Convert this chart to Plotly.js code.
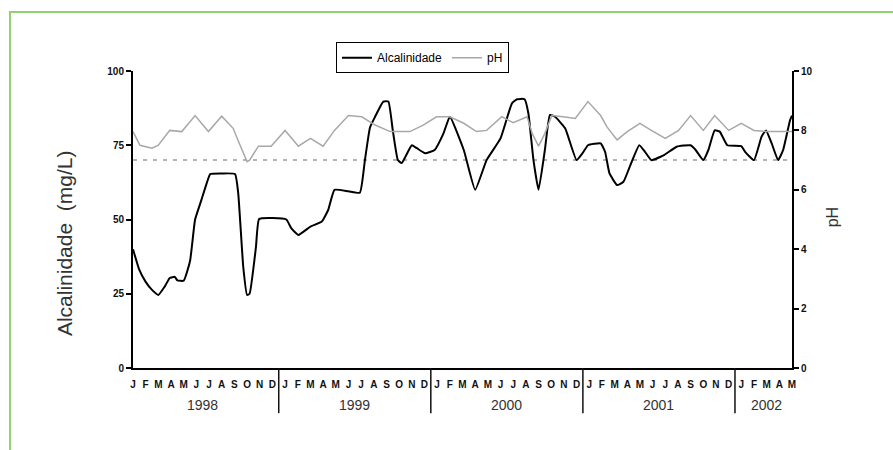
<!DOCTYPE html>
<html>
<head>
<meta charset="utf-8">
<script src="https://cdn.plot.ly/plotly-3.0.1.min.js"></script>
<style>
  html, body { margin: 0; padding: 0; background: #fff; }
  #wrap { position: relative; width: 893px; height: 450px; overflow: hidden; }
  #chart { width: 893px; height: 450px; }
  #frame { position: absolute; left: 9px; top: 11px; right: -4px; bottom: -4px;
           border-top: 2px solid #93d070; border-left: 2px solid #93d070; pointer-events: none; }
</style>
</head>
<body>
<div id="wrap">
  <div id="chart"></div>
  <div id="frame"></div>
</div>
<script>
// Monthly position (0 = January 1998) of each alkalinity reading
const alkMonth = [0, 0.5, 1.0, 1.5, 2.0, 2.5, 2.9, 3.3, 3.5, 4.0, 4.5, 4.9, 5.4, 5.8, 6.1, 7.0, 8.05,
  8.3, 8.7, 9.0, 9.2, 9.7, 9.95, 11.0, 12.1, 12.5, 13.05, 14.0, 14.9, 15.4, 15.9, 17.0, 17.9,
  18.3, 18.7, 19.1, 19.75, 20.15, 20.5, 20.9, 21.2, 22.0, 22.4, 23.05, 23.8, 24.5, 25.0, 26.1,
  27.0, 27.9, 29.0, 29.9, 30.3, 30.9, 31.2, 31.6, 32.0, 32.5, 32.9, 33.3, 34.1, 35.0, 35.5,
  35.9, 36.9, 37.25, 37.6, 38.2, 38.7, 39.2, 39.95, 40.4, 40.9, 41.9, 42.9, 44.0, 44.4, 45.0,
  45.4, 45.9, 46.3, 46.9, 48.0, 48.3, 49.0, 49.6, 49.95, 50.4, 50.9, 51.3, 51.85, 52.0];
// Alkalinity (mg/L)
const alkValue = [40, 33, 29, 26.3, 24.6, 27.4, 30.3, 30.7, 29.5, 29.4, 36, 50, 56.6, 62, 65.3, 65.5, 65.3,
  59, 34, 24.6, 25, 40.7, 50.2, 50.5, 50, 47, 44.8, 47.6, 49.3, 53.2, 60, 59.5, 59,
  70, 81, 84.6, 89.7, 89.7, 80, 70, 69, 75, 74, 72.3, 73.4, 79, 84.6, 73.4,
  60, 70, 77.3, 89.1, 90.5, 90.5, 85.7, 70, 60, 73.4, 85.2, 84.6, 80.7, 70, 72.5,
  75, 75.6, 72.8, 65.5, 61.6, 62.7, 67.8, 75, 72.8, 70, 71.7, 74.5, 75, 73.4, 70,
  73.4, 80, 79.6, 75, 74.7, 72.8, 70, 77.9, 80, 75.6, 70, 73.4, 83.5, 85];

// Monthly position of each pH reading
const phMonth = [0, 0.55, 1.5, 2.0, 2.9, 3.85, 4.9, 5.95, 7.0, 7.9, 8.45, 9.0, 9.2, 9.9, 10.9, 12.0,
  13.05, 14.0, 15.0, 15.9, 17.0, 18.05, 19.1, 20.3, 21.85, 22.9, 23.95, 25.0, 26.1, 27.1, 27.9,
  29.1, 30.0, 31.1, 31.5, 32.0, 32.5, 33.05, 33.95, 34.9, 35.9, 36.9, 37.4, 38.2, 39.0, 40.0,
  40.9, 42.0, 43.05, 44.0, 45.0, 45.9, 47.0, 48.0, 49.0, 50.0, 51.1, 52.0];
const phValue = [7.96, 7.5, 7.4, 7.5, 8.0, 7.96, 8.5, 7.96, 8.48, 8.07, 7.5, 6.95, 7.0, 7.47, 7.47, 8.0,
  7.47, 7.73, 7.47, 8.0, 8.5, 8.46, 8.18, 7.96, 7.96, 8.18, 8.46, 8.46, 8.24, 7.96, 8.0,
  8.46, 8.26, 8.46, 7.9, 7.47, 7.9, 8.5, 8.46, 8.4, 8.97, 8.5, 8.12, 7.68, 7.96, 8.24,
  8.0, 7.73, 8.0, 8.5, 8.0, 8.5, 8.0, 8.24, 8.0, 7.96, 7.96, 7.96];

// Reference level (70 mg/L, equivalent to pH 7 on the right scale)
const referenceLevel = 70;

// Axis labels
const monthLetters = ['J', 'F', 'M', 'A', 'M', 'J', 'J', 'A', 'S', 'O', 'N', 'D'];
const years = ['1998', '1999', '2000', '2001', '2002'];
const monthsPerYear = [12, 12, 12, 12, 5];
const alkTicks = [0, 25, 50, 75, 100];
const phTicks = [0, 2, 4, 6, 8, 10];

// Build month ticks, year labels and year separators
const monthTickVals = [];
const monthTickText = [];
const yearAnnotations = [];
const separators = [];
let idx = 0;
years.forEach((yr, i) => {
  const start = idx;
  for (let m = 0; m < monthsPerYear[i]; m++) {
    monthTickVals.push(idx);
    monthTickText.push(monthLetters[m]);
    idx++;
  }
  const end = idx - 1;
  yearAnnotations.push({
    x: (start + end) / 2, xref: 'x', y: -0.125, yref: 'paper',
    xanchor: 'center', yanchor: 'middle',
    text: yr, showarrow: false,
    font: { family: 'Liberation Sans, Arial, sans-serif', size: 14, color: '#333' }
  });
  if (i < years.length - 1) {
    separators.push({
      type: 'line', xref: 'x', yref: 'paper',
      x0: end + 0.5, x1: end + 0.5, y0: 0, y1: -0.152,
      line: { color: '#111', width: 1.5 }
    });
  }
});
const lastMonth = idx - 1;

const tickFont = { family: 'Liberation Sans, Arial, sans-serif', size: 10, color: '#111', weight: 'bold' };

const traces = [
  {
    x: [0, lastMonth], y: [referenceLevel, referenceLevel],
    mode: 'lines', showlegend: false, hoverinfo: 'skip',
    line: { color: '#9a9a9a', width: 1.5, dash: '4px,6px' }
  },
  {
    x: alkMonth, y: alkValue, name: 'Alcalinidade',
    mode: 'lines', line: { color: '#000', width: 2, shape: 'spline', smoothing: 0.4 }
  },
  {
    x: phMonth, y: phValue, name: 'pH', yaxis: 'y2',
    mode: 'lines', line: { color: '#a8a8a8', width: 1.5 }
  }
];

const layout = {
  width: 893, height: 450,
  margin: { l: 133, r: 101, t: 71, b: 82 },
  paper_bgcolor: '#fff', plot_bgcolor: '#fff',
  showlegend: true,
  legend: {
    orientation: 'h', x: 0.308, y: 1.097, xanchor: 'left', yanchor: 'top',
    bordercolor: '#000', borderwidth: 1, bgcolor: '#fff',
    font: { family: 'Liberation Sans, Arial, sans-serif', size: 12, color: '#000' },
    itemwidth: 30, tracegroupgap: 0
  },
  xaxis: {
    range: [0, lastMonth], showgrid: false, zeroline: false,
    showline: true, linecolor: '#000', linewidth: 2,
    tickmode: 'array', tickvals: monthTickVals, ticktext: monthTickText,
    ticks: '', ticklabelstandoff: 6, tickfont: tickFont, automargin: false, fixedrange: true
  },
  yaxis: {
    range: [0, 100], showgrid: false, zeroline: false,
    showline: true, linecolor: '#000', linewidth: 2,
    tickmode: 'array', tickvals: alkTicks,
    ticks: 'outside', ticklen: 5, tickwidth: 2, tickcolor: '#000',
    tickfont: tickFont, automargin: false, fixedrange: true
  },
  yaxis2: {
    range: [0, 10], overlaying: 'y', side: 'right', showgrid: false, zeroline: false,
    showline: true, linecolor: '#000', linewidth: 2,
    tickmode: 'array', tickvals: phTicks,
    ticks: 'outside', ticklen: 5, tickwidth: 2, tickcolor: '#000',
    tickfont: tickFont, automargin: false, fixedrange: true
  },
  shapes: separators,
  annotations: yearAnnotations.concat([
    {
      x: -0.103, xref: 'paper', y: 0.421, yref: 'paper', textangle: -90,
      xanchor: 'center', yanchor: 'middle',
      text: 'Alcalinidade  (mg/L)', showarrow: false,
      font: { family: 'Liberation Sans, Arial, sans-serif', size: 21, color: '#333' }
    },
    {
      x: 1.061, xref: 'paper', y: 0.508, yref: 'paper', textangle: -90,
      xanchor: 'center', yanchor: 'middle',
      text: 'pH', showarrow: false,
      font: { family: 'Liberation Sans, Arial, sans-serif', size: 16, color: '#333' }
    }
  ])
};

Plotly.newPlot('chart', traces, layout, { displayModeBar: false, staticPlot: true });
</script>
</body>
</html>
